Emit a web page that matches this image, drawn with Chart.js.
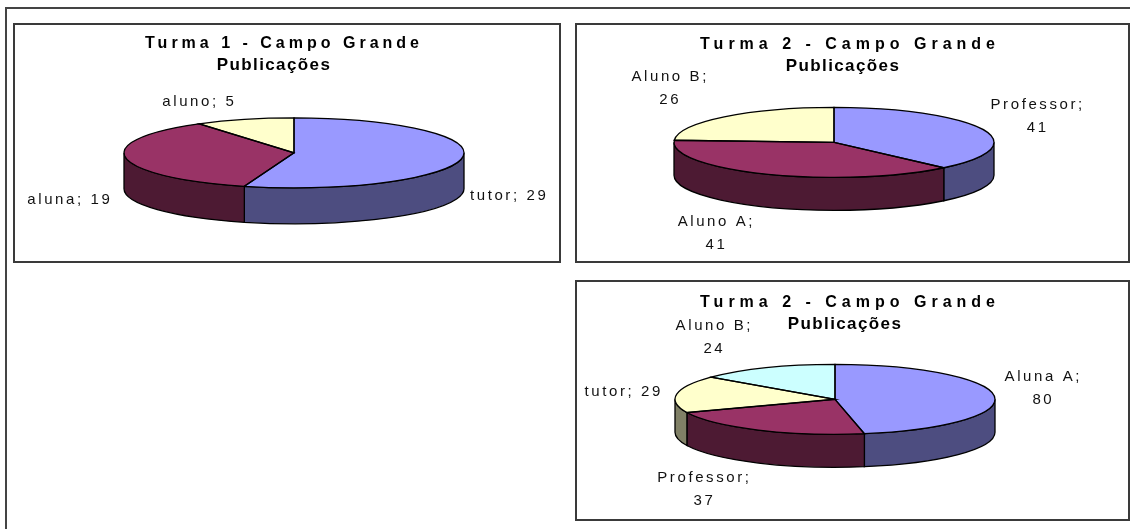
<!DOCTYPE html>
<html>
<head>
<meta charset="utf-8">
<title>Publicações</title>
<script src="https://cdn.jsdelivr.net/npm/chart.js@4/dist/chart.umd.min.js"></script>
<style>
    html, body { margin: 0; padding: 0; background: #fff; overflow: hidden; }
    #page { position: relative; width: 1130px; height: 529px; }
    #frameTop { position: absolute; left: 5px; top: 7px; width: 1125px; height: 2px; background: #444; }
    #frameLeft { position: absolute; left: 5px; top: 7px; width: 2px; height: 522px; background: #444; }
    .box { position: absolute; box-sizing: border-box; border: 2px solid #3a3a3a; background: #fff; }
    .box canvas { position: absolute; left: -2px; top: -2px; }
</style>
</head>
<body>
<div id="page">
    <div id="frameTop"></div>
    <div id="frameLeft"></div>
    <div class="box" style="left:13px;top:23px;width:548px;height:240px"><canvas id="pie1" width="548" height="240"></canvas></div>
    <div class="box" style="left:575px;top:23px;width:555px;height:240px"><canvas id="pie2" width="555" height="240"></canvas></div>
    <div class="box" style="left:575px;top:280px;width:555px;height:241px"><canvas id="pie3" width="555" height="241"></canvas></div>
</div>
<script>
const namesTurma1 = ['tutor', 'aluna', 'aluno'];
const valuesTurma1 = [29, 19, 5];

const namesTurma2 = ['Professor', 'Aluno A', 'Aluno B'];
const valuesTurma2 = [41, 41, 26];

const namesTurma2b = ['Aluna A', 'Professor', 'tutor', 'Aluno B'];
const valuesTurma2b = [80, 37, 29, 24];

const topColors = ['#9999ff', '#993366', '#ffffcc', '#ccffff'];
const sideColors = ['#4d4d80', '#4d1a33', '#808066', '#668080'];

const labelFont = '15px "Liberation Sans", Arial, sans-serif';

// Excel style 3D look: squash the pie vertically and add a wall under the front half
const pie3d = {
    id: 'pie3d',
    afterLayout(chart, args, opts) {
        // move the two title lines and give each its own letter spacing
        chart.boxes.forEach(box => {
            let spot = null;
            if (box.options && box.options.text === chart.options.plugins.title.text) spot = opts.titleSpot;
            if (box.options && box.options.text === chart.options.plugins.subtitle.text) spot = opts.subtitleSpot;
            if (!spot) return;
            box.left = spot.x - 150;
            box.right = spot.x + 150;
            box.top = spot.y - box.options.font.size * 0.6;
            if (!box.plainDraw) {
                box.plainDraw = box.draw;
                box.draw = function () {
                    chart.ctx.letterSpacing = spot.spacing + 'px';
                    box.plainDraw();
                    chart.ctx.letterSpacing = '0px';
                };
            }
        });
    },
    beforeDatasetsDraw(chart, args, opts) {
        const ctx = chart.ctx;
        const arcs = chart.getDatasetMeta(0).data;
        arcs.forEach((arc, i) => {
            const from = Math.max(arc.startAngle, 0);
            const to = Math.min(arc.endAngle, Math.PI);
            if (to <= from) return;
            const r = arc.outerRadius;
            ctx.beginPath();
            ctx.ellipse(arc.x, arc.y, r, opts.ry, 0, from, to);
            ctx.ellipse(arc.x, arc.y + opts.depth, r, opts.ry, 0, to, from, true);
            ctx.closePath();
            ctx.fillStyle = sideColors[i];
            ctx.fill();
            ctx.strokeStyle = '#000';
            ctx.lineWidth = 1.3;
            ctx.stroke();
        });
        const first = arcs[0];
        ctx.save();
        ctx.translate(first.x, first.y);
        ctx.scale(1, opts.ry / first.outerRadius);
        ctx.translate(-first.x, -first.y);
    },
    afterDatasetsDraw(chart, args, opts) {
        const ctx = chart.ctx;
        ctx.restore();
        const arcs = chart.getDatasetMeta(0).data;
        const labels = chart.data.labels;
        const values = chart.data.datasets[0].data;
        arcs.forEach((arc, i) => {
            // slice outline, drawn unsquashed so the line keeps its weight
            ctx.beginPath();
            ctx.moveTo(arc.x, arc.y);
            ctx.ellipse(arc.x, arc.y, arc.outerRadius, opts.ry, 0, arc.startAngle, arc.endAngle);
            ctx.closePath();
            ctx.strokeStyle = '#000';
            ctx.lineWidth = 1.3;
            ctx.stroke();

            // label sits at an offset from the middle of the slice edge
            const mid = (arc.startAngle + arc.endAngle) / 2;
            const edgeX = arc.x + Math.cos(mid) * arc.outerRadius;
            const edgeY = arc.y + Math.sin(mid) * opts.ry;
            const place = opts.labels[i];
            ctx.font = labelFont;
            ctx.fillStyle = '#111';
            ctx.textAlign = 'center';
            ctx.textBaseline = 'middle';
            ctx.letterSpacing = opts.labelSpacing + 'px';
            if (place.wrap) {
                ctx.fillText(labels[i] + ';', edgeX + place.dx, edgeY + place.dy - 11.5);
                ctx.fillText(String(values[i]), edgeX + place.dx, edgeY + place.dy + 11.5);
            } else {
                ctx.fillText(labels[i] + '; ' + values[i], edgeX + place.dx, edgeY + place.dy);
            }
            ctx.letterSpacing = '0px';
        });
    }
};

function drawPie(canvasId, names, values, settings) {
    return new Chart(document.getElementById(canvasId), {
        type: 'pie',
        data: {
            labels: names,
            datasets: [{
                data: values,
                backgroundColor: topColors.slice(0, values.length),
                borderWidth: 0,
                clip: false
            }]
        },
        options: {
            responsive: false,
            animation: false,
            radius: settings.radius,
            layout: { padding: settings.padding },
            plugins: {
                legend: { display: false },
                tooltip: { enabled: false },
                title: {
                    display: true,
                    text: settings.title,
                    color: '#000',
                    padding: 0,
                    font: { family: '"Liberation Sans", Arial, sans-serif', size: 16, weight: 'bold' }
                },
                subtitle: {
                    display: true,
                    text: 'Publicações',
                    color: '#000',
                    padding: 0,
                    font: { family: '"Liberation Sans", Arial, sans-serif', size: 17, weight: 'bold' }
                },
                pie3d: settings.pie3d
            }
        },
        plugins: [pie3d]
    });
}

drawPie('pie1', namesTurma1, valuesTurma1, {
    radius: 170,
    title: 'Turma 1 - Campo Grande',
    padding: { left: 14, right: 0, top: 0, bottom: 20 },
    pie3d: {
        ry: 35, depth: 36, labelSpacing: 2.6,
        titleSpot: { x: 271, y: 21, spacing: 4 },
        subtitleSpot: { x: 261, y: 42, spacing: 1.4 },
        labels: [{ dx: 47, dy: 38 }, { dx: -56, dy: 42 }, { dx: -45, dy: -17 }]
    }
});

drawPie('pie2', namesTurma2, valuesTurma2, {
    radius: 160,
    title: 'Turma 2 - Campo Grande',
    padding: { left: 0, right: 37, top: 0, bottom: 41 },
    pie3d: {
        ry: 35, depth: 33, labelSpacing: 2.6,
        titleSpot: { x: 275, y: 22, spacing: 5 },
        subtitleSpot: { x: 268, y: 43, spacing: 1.4 },
        labels: [{ dx: 55, dy: -13, wrap: true }, { dx: -50, dy: 59, wrap: true }, { dx: -54, dy: -28, wrap: true }]
    }
});

drawPie('pie3', namesTurma2b, valuesTurma2b, {
    radius: 160,
    title: 'Turma 2 - Campo Grande',
    padding: { left: 0, right: 35, top: 0, bottom: 42 },
    pie3d: {
        ry: 35, depth: 33, labelSpacing: 2.6,
        titleSpot: { x: 275, y: 23, spacing: 5 },
        subtitleSpot: { x: 270, y: 44, spacing: 1.4 },
        labels: [{ dx: 49, dy: -8, wrap: true }, { dx: -54, dy: 59, wrap: true }, { dx: -53, dy: -2 }, { dx: -52, dy: -30, wrap: true }]
    }
});
</script>
</body>
</html>
